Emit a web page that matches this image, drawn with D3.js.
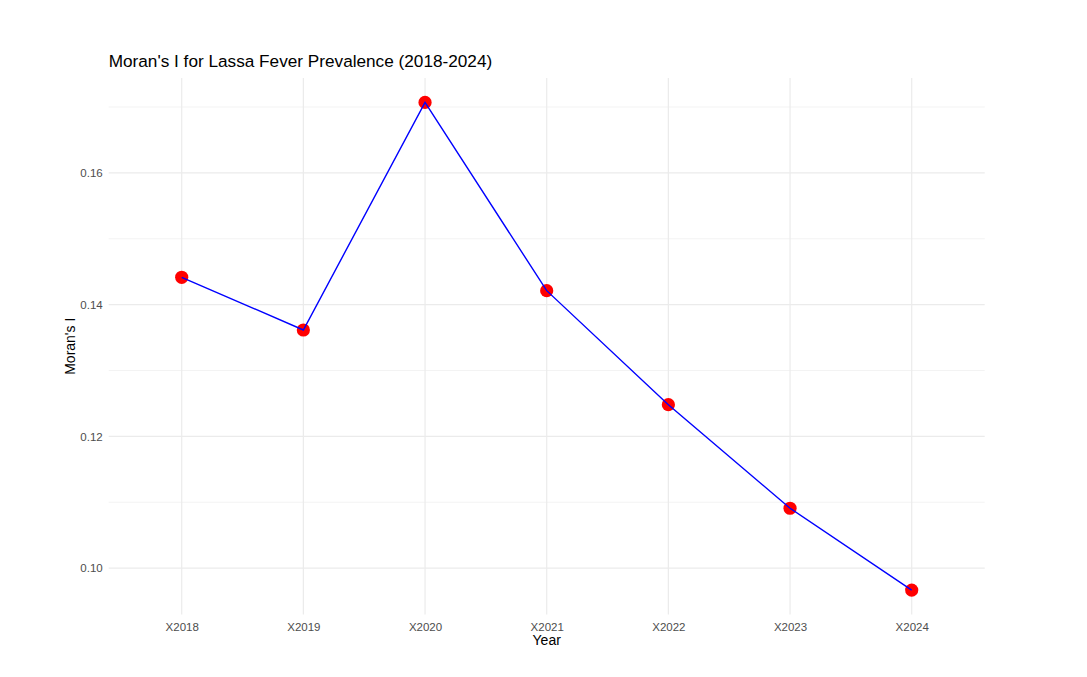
<!DOCTYPE html>
<html>
<head>
<meta charset="utf-8">
<script src="https://cdn.jsdelivr.net/npm/d3@7"></script>
<style>
  html, body { margin: 0; padding: 0; background: #ffffff; }
  svg { display: block; font-family: "Liberation Sans", Arial, sans-serif; }
</style>
</head>
<body>
<svg id="chart" width="1087" height="677"></svg>
<script>
const years = ["X2018", "X2019", "X2020", "X2021", "X2022", "X2023", "X2024"];
const moransI = [0.14415, 0.13615, 0.17070, 0.14212, 0.12481, 0.10909, 0.09666];
const yMajorTicks = [0.10, 0.12, 0.14, 0.16];
const yMinorTicks = [0.11, 0.13, 0.15, 0.17];
const titleText = "Moran's I for Lassa Fever Prevalence (2018-2024)";
const xTitle = "Year";
const yTitle = "Moran's I";

const data = years.map((y, i) => ({ year: y, value: moransI[i] }));

const svg = d3.select("#chart");
const panel = { left: 108.7, right: 984.7, top: 78, bottom: 614.5 };

// discrete x scale with ggplot-style 0.6 unit expansion
const step = (panel.right - panel.left) / (years.length - 1 + 1.2);
const x = d3.scalePoint()
  .domain(years)
  .range([panel.left + 0.6 * step, panel.right - 0.6 * step]);

const ext = d3.extent(moransI);
const pad = (ext[1] - ext[0]) * 0.05;
const y = d3.scaleLinear()
  .domain([ext[0] - pad, ext[1] + pad])
  .range([panel.bottom, panel.top]);

const grid = svg.append("g");
// minor horizontal grid
grid.selectAll("line.minor").data(yMinorTicks).join("line")
  .attr("x1", panel.left).attr("x2", panel.right)
  .attr("y1", d => y(d)).attr("y2", d => y(d))
  .attr("stroke", "#ebebeb").attr("stroke-width", 0.6);
// major horizontal grid
grid.selectAll("line.major").data(yMajorTicks).join("line")
  .attr("x1", panel.left).attr("x2", panel.right)
  .attr("y1", d => y(d)).attr("y2", d => y(d))
  .attr("stroke", "#ebebeb").attr("stroke-width", 1.2);
// vertical grid
grid.selectAll("line.v").data(years).join("line")
  .attr("x1", d => x(d)).attr("x2", d => x(d))
  .attr("y1", panel.top).attr("y2", panel.bottom)
  .attr("stroke", "#ebebeb").attr("stroke-width", 1.2);

// y axis labels
const yAxis = d3.axisLeft(y).tickValues(yMajorTicks).tickFormat(d3.format(".2f")).tickSize(0).tickPadding(6);
const yg = svg.append("g").attr("transform", `translate(${panel.left},0)`).call(yAxis);
yg.select(".domain").remove();
yg.selectAll("text").attr("fill", "#4d4d4d").style("font-size", "11.5px")
  .style("font-family", "'Liberation Sans', Arial, sans-serif");

// x axis labels
const xAxis = d3.axisBottom(x).tickSize(0).tickPadding(8);
const xg = svg.append("g").attr("transform", `translate(0,${panel.bottom})`).call(xAxis);
xg.select(".domain").remove();
xg.selectAll("text").attr("fill", "#4d4d4d").style("font-size", "11.5px")
  .style("font-family", "'Liberation Sans', Arial, sans-serif");

// points
svg.append("g").selectAll("circle").data(data).join("circle")
  .attr("cx", d => x(d.year)).attr("cy", d => y(d.value))
  .attr("r", 6.6).attr("fill", "#ff0000");

// line (drawn over points)
const line = d3.line().x(d => x(d.year)).y(d => y(d.value));
svg.append("path").datum(data)
  .attr("d", line).attr("fill", "none")
  .attr("stroke", "#0000ff").attr("stroke-width", 1.4);

// titles
svg.append("text").attr("x", panel.left).attr("y", 67)
  .attr("fill", "#000").style("font-size", "17.2px").text(titleText);

svg.append("text").attr("x", (panel.left + panel.right) / 2).attr("y", 645)
  .attr("text-anchor", "middle").attr("fill", "#000").style("font-size", "14px").text(xTitle);

svg.append("text")
  .attr("transform", `translate(75,${(panel.top + panel.bottom) / 2}) rotate(-90)`)
  .attr("text-anchor", "middle").attr("fill", "#000").style("font-size", "14px").text(yTitle);
</script>
</body>
</html>
